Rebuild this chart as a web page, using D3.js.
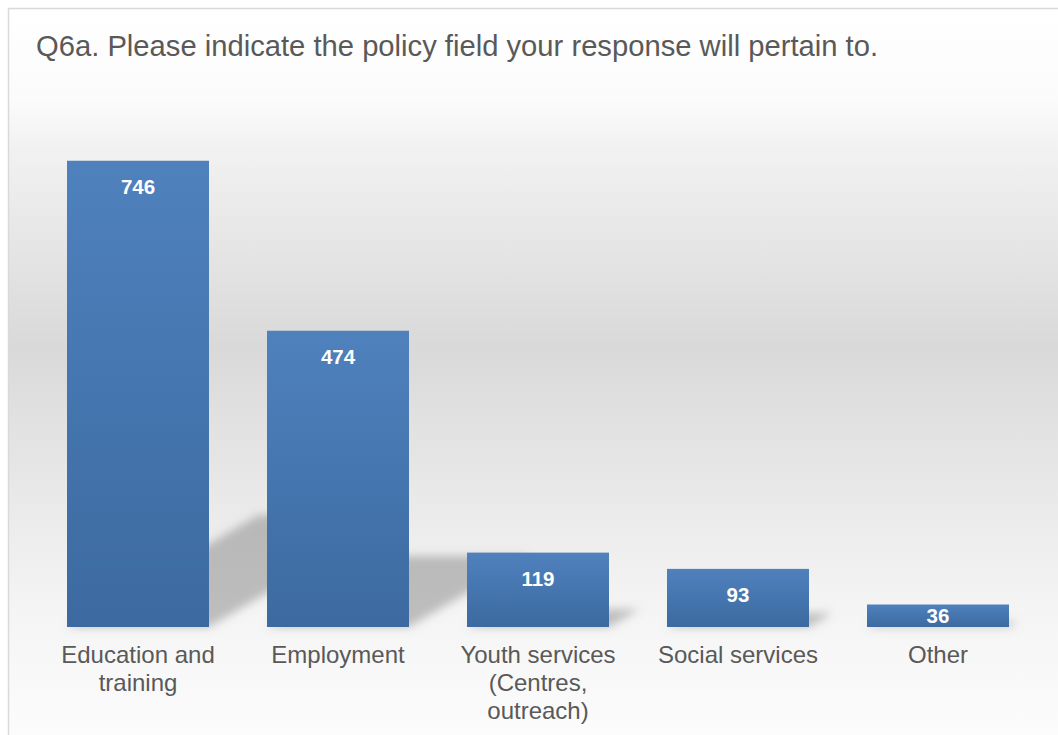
<!DOCTYPE html>
<html>
<head>
<meta charset="utf-8">
<script src="https://cdn.jsdelivr.net/npm/d3@7"></script>
<style>
  html, body { margin: 0; padding: 0; background: #ffffff; }
  svg { display: block; }
</style>
</head>
<body>
<script>
const title = "Q6a. Please indicate the policy field your response will pertain to.";
const categories = ["Education and training", "Employment", "Youth services (Centres, outreach)", "Social services", "Other"];
const values = [746, 474, 119, 93, 36];

const W = 1058, H = 735;
const svg = d3.select("body").append("svg").attr("width", W).attr("height", H);
const defs = svg.append("defs");

const bg = defs.append("linearGradient").attr("id", "bg")
  .attr("gradientUnits", "userSpaceOnUse").attr("x1", 0).attr("y1", 8).attr("x2", 0).attr("y2", 760);
[[0, "#ffffff"], [0.12, "#fbfbfb"], [0.19, "#f1f1f1"], [0.45, "#d9d9d9"], [0.65, "#e9e9e9"], [0.81, "#f5f5f5"], [1, "#fdfdfd"]]
  .forEach(([o, c]) => bg.append("stop").attr("offset", o).attr("stop-color", c));

const barGrad = defs.append("linearGradient").attr("id", "barGrad")
  .attr("x1", 0).attr("y1", 0).attr("x2", 0).attr("y2", 1);
barGrad.append("stop").attr("offset", 0).attr("stop-color", "#4f81bd");
barGrad.append("stop").attr("offset", 1).attr("stop-color", "#3c6aa0");

defs.append("filter").attr("id", "blur").attr("x", "-20%").attr("y", "-20%").attr("width", "140%").attr("height", "140%")
  .append("feGaussianBlur").attr("stdDeviation", 5);

svg.append("rect").attr("x", 8.5).attr("y", 8.5).attr("width", W + 10).attr("height", H + 10)
  .attr("fill", "url(#bg)").attr("stroke", "#d9d9d9").attr("stroke-width", 1.5);

svg.append("text").attr("x", 36).attr("y", 56)
  .attr("font-family", "Liberation Sans, Arial, sans-serif").attr("font-size", 29.2)
  .attr("fill", "#595959").text(title);

const x = d3.scaleBand().domain(categories).range([38, 1038]).paddingInner(0.29).paddingOuter(0.145);
const y = d3.scaleLinear().domain([0, 800]).range([627, 127]);

const data = categories.map((c, i) => ({ c, v: values[i] }));

// perspective shadows
svg.append("g").attr("filter", "url(#blur)").selectAll("path").data(data).join("path")
  .attr("d", d => {
    const x0 = x(d.c), x1 = x0 + x.bandwidth(), b = y(0), h = y(0) - y(d.v);
    const sh = 0.24 * h, dx = 0.41 * h;
    return `M${x0},${b}L${x1},${b}L${x1 + dx},${b - sh}L${x0 + dx},${b - sh}Z`;
  })
  .attr("fill", "#7a7a7a").attr("fill-opacity", 0.45);

svg.append("g").selectAll("rect").data(data).join("rect")
  .attr("x", d => x(d.c)).attr("width", x.bandwidth())
  .attr("y", d => y(d.v)).attr("height", d => y(0) - y(d.v))
  .attr("fill", "url(#barGrad)");

svg.append("g").selectAll("text").data(data).join("text")
  .attr("x", d => x(d.c) + x.bandwidth() / 2)
  .attr("y", d => {
    const h = y(0) - y(d.v);
    return h < 40 ? (y(d.v) + y(0)) / 2 + 7.5 : y(d.v) + 33;
  })
  .attr("text-anchor", "middle")
  .attr("font-family", "Liberation Sans, Arial, sans-serif").attr("font-size", 20.5).attr("font-weight", "bold")
  .attr("fill", "#ffffff").text(d => d.v);

// category axis
const axis = svg.append("g").attr("transform", `translate(0,${y(0)})`)
  .call(d3.axisBottom(x).tickSize(0).tickPadding(0));
axis.select(".domain").remove();
axis.selectAll("text")
  .attr("font-family", "Liberation Sans, Arial, sans-serif").attr("font-size", 24)
  .attr("fill", "#595959").attr("dy", null).attr("y", 36)
  .each(function (d) {
    const t = d3.select(this);
    const words = d.split(" ");
    t.text(null);
    let line = [], lineNo = 0;
    let tspan = t.append("tspan").attr("x", 0).attr("y", 36);
    words.forEach(w => {
      line.push(w);
      tspan.text(line.join(" "));
      if (tspan.node().getComputedTextLength() > 180 && line.length > 1) {
        line.pop();
        tspan.text(line.join(" "));
        line = [w];
        lineNo++;
        tspan = t.append("tspan").attr("x", 0).attr("y", 36 + lineNo * 28).text(w);
      }
    });
  });
</script>
</body>
</html>
